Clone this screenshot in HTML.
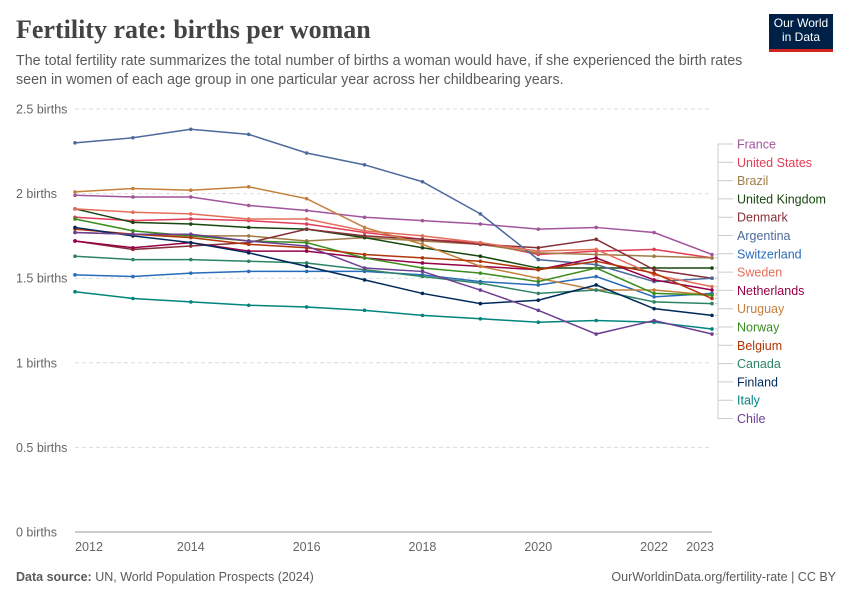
<!DOCTYPE html>
<html><head><meta charset="utf-8"><style>
body{margin:0;background:#fff;font-family:"Liberation Sans",sans-serif;}
#wrap{position:relative;width:850px;height:600px;}
.t{position:absolute;}
</style></head><body><div id="wrap">
<div class="t" style="left:16px;top:15px;font-family:'Liberation Serif',serif;font-size:26px;color:#444;font-weight:bold">Fertility rate: births per woman</div>
<div class="t" style="left:16px;top:52px;width:735px;font-size:14.3px;line-height:19px;color:#5b5b5b">The total fertility rate summarizes the total number of births a woman would have, if she experienced the birth rates seen in women of each age group in one particular year across her childbearing years.</div>
<div class="t" style="left:769px;top:14px;width:64px;height:38px;background:#002147;border-bottom:3px solid #ce261e;color:#fff;font-size:12px;line-height:14px;text-align:center;padding-top:2px;box-sizing:border-box">Our World<br>in Data</div>
<svg id="c" width="850" height="600" style="position:absolute;left:0;top:0"></svg>
<div class="t" style="left:16px;top:570px;font-size:12.5px;color:#5b5b5b"><b>Data source:</b> UN, World Population Prospects (2024)</div>
<div class="t" style="right:14px;top:570px;font-size:12.5px;color:#5b5b5b">OurWorldinData.org/fertility-rate | CC BY</div>
</div>
<script>
const years=[2012,2013,2014,2015,2016,2017,2018,2019,2020,2021,2022,2023];
const names=["France","United States","Brazil","United Kingdom","Denmark","Argentina","Switzerland","Sweden","Netherlands","Uruguay","Norway","Belgium","Canada","Finland","Italy","Chile"];
const colors=["#a2559c","#e03d56","#a07b46","#18470f","#883039","#4c6a9c","#286bbb","#e56e5a","#970046","#c4803a","#3a8e1f","#b13507","#2c8465","#00295b","#00847e","#6d3e91"];
const vFrance=[1.99,1.98,1.98,1.93,1.90,1.86,1.84,1.82,1.79,1.80,1.77,1.64];
const vUS=[1.86,1.84,1.85,1.84,1.82,1.77,1.73,1.71,1.64,1.66,1.67,1.62];
const vBrazil=[1.77,1.76,1.75,1.75,1.72,1.74,1.72,1.70,1.65,1.64,1.63,1.62];
const vUK=[1.91,1.83,1.82,1.80,1.79,1.74,1.68,1.63,1.56,1.56,1.56,1.56];
const vDenmark=[1.72,1.67,1.69,1.71,1.79,1.75,1.73,1.70,1.68,1.73,1.55,1.50];
const vArgentina=[2.30,2.33,2.38,2.35,2.24,2.17,2.07,1.88,1.61,1.58,1.48,1.50];
const vSwitzerland=[1.52,1.51,1.53,1.54,1.54,1.54,1.52,1.48,1.46,1.51,1.39,1.41];
const vSweden=[1.91,1.89,1.88,1.85,1.85,1.78,1.75,1.71,1.66,1.67,1.52,1.45];
const vNetherlands=[1.72,1.68,1.71,1.66,1.66,1.62,1.59,1.57,1.55,1.62,1.49,1.43];
const vUruguay=[2.01,2.03,2.02,2.04,1.97,1.80,1.70,1.57,1.50,1.43,1.43,1.40];
const vNorway=[1.85,1.78,1.75,1.72,1.71,1.62,1.56,1.53,1.48,1.56,1.41,1.40];
const vBelgium=[1.79,1.76,1.74,1.70,1.68,1.64,1.62,1.60,1.55,1.60,1.53,1.38];
const vCanada=[1.63,1.61,1.61,1.60,1.59,1.55,1.51,1.47,1.41,1.43,1.36,1.35];
const vFinland=[1.80,1.75,1.71,1.65,1.57,1.49,1.41,1.35,1.37,1.46,1.32,1.28];
const vItaly=[1.42,1.38,1.36,1.34,1.33,1.31,1.28,1.26,1.24,1.25,1.24,1.20];
const vChile=[1.77,1.76,1.76,1.72,1.69,1.56,1.54,1.43,1.31,1.17,1.25,1.17];
const series=[vFrance,vUS,vBrazil,vUK,vDenmark,vArgentina,vSwitzerland,vSweden,vNetherlands,vUruguay,vNorway,vBelgium,vCanada,vFinland,vItaly,vChile];
const yTicks=[0,0.5,1,1.5,2,2.5];
const yTickLabels=["0 births","0.5 births","1 births","1.5 births","2 births","2.5 births"];
const xTicks=[2012,2014,2016,2018,2020,2022,2023];
const svg=document.getElementById('c'),NS="http://www.w3.org/2000/svg";
const X=y=>75+(y-2012)*(712-75)/11, Y=v=>532-v*169.2;
function el(t,a,p){const e=document.createElementNS(NS,t);for(const k in a)e.setAttribute(k,a[k]);(p||svg).appendChild(e);return e;}
yTicks.forEach((t,i)=>{
 const g=el('line',{x1:75,x2:712,y1:Y(t),y2:Y(t),stroke:t===0?'#999':'#ddd','stroke-dasharray':t===0?'':'4,3'});
 
 const tx=el('text',{x:16,y:Y(t)+4.5,'font-size':12.5,fill:'#666','font-family':'Liberation Sans'});tx.textContent=yTickLabels[i];
 
});
xTicks.forEach(t=>{
 const tx=el('text',{x:X(t),y:551,'font-size':12.5,fill:'#666','text-anchor':t===2023?'end':'middle','font-family':'Liberation Sans'});
 if(t===2023)tx.setAttribute('x',X(t)+2); if(t===2012)tx.setAttribute('x',X(t)+14);
 tx.textContent=t;
});
series.forEach((s,i)=>{
 const g=el('g',{});
 el('polyline',{points:s.map((v,j)=>X(years[j])+','+Y(v)).join(' '),fill:'none',stroke:colors[i],'stroke-width':1.5},g);
 s.forEach((v,j)=>el('circle',{cx:X(years[j]),cy:Y(v),r:1.8,fill:colors[i]},g));
});
const lx=737, ly0=144, step=18.3;
names.forEach((n,i)=>{
 const yy=ly0+i*step;
 const endY=Y(series[i][11]);
 const ln=el('polyline',{points:`${X(2023)+3},${endY} 718,${endY} 718,${yy} ${lx-4},${yy}`,fill:'none',stroke:'#ccc','stroke-width':1});
 
 const tx=el('text',{x:lx,y:yy+4.5,'font-size':12.5,fill:colors[i],'font-family':'Liberation Sans'});tx.textContent=n;
 
});
</script></body></html>
